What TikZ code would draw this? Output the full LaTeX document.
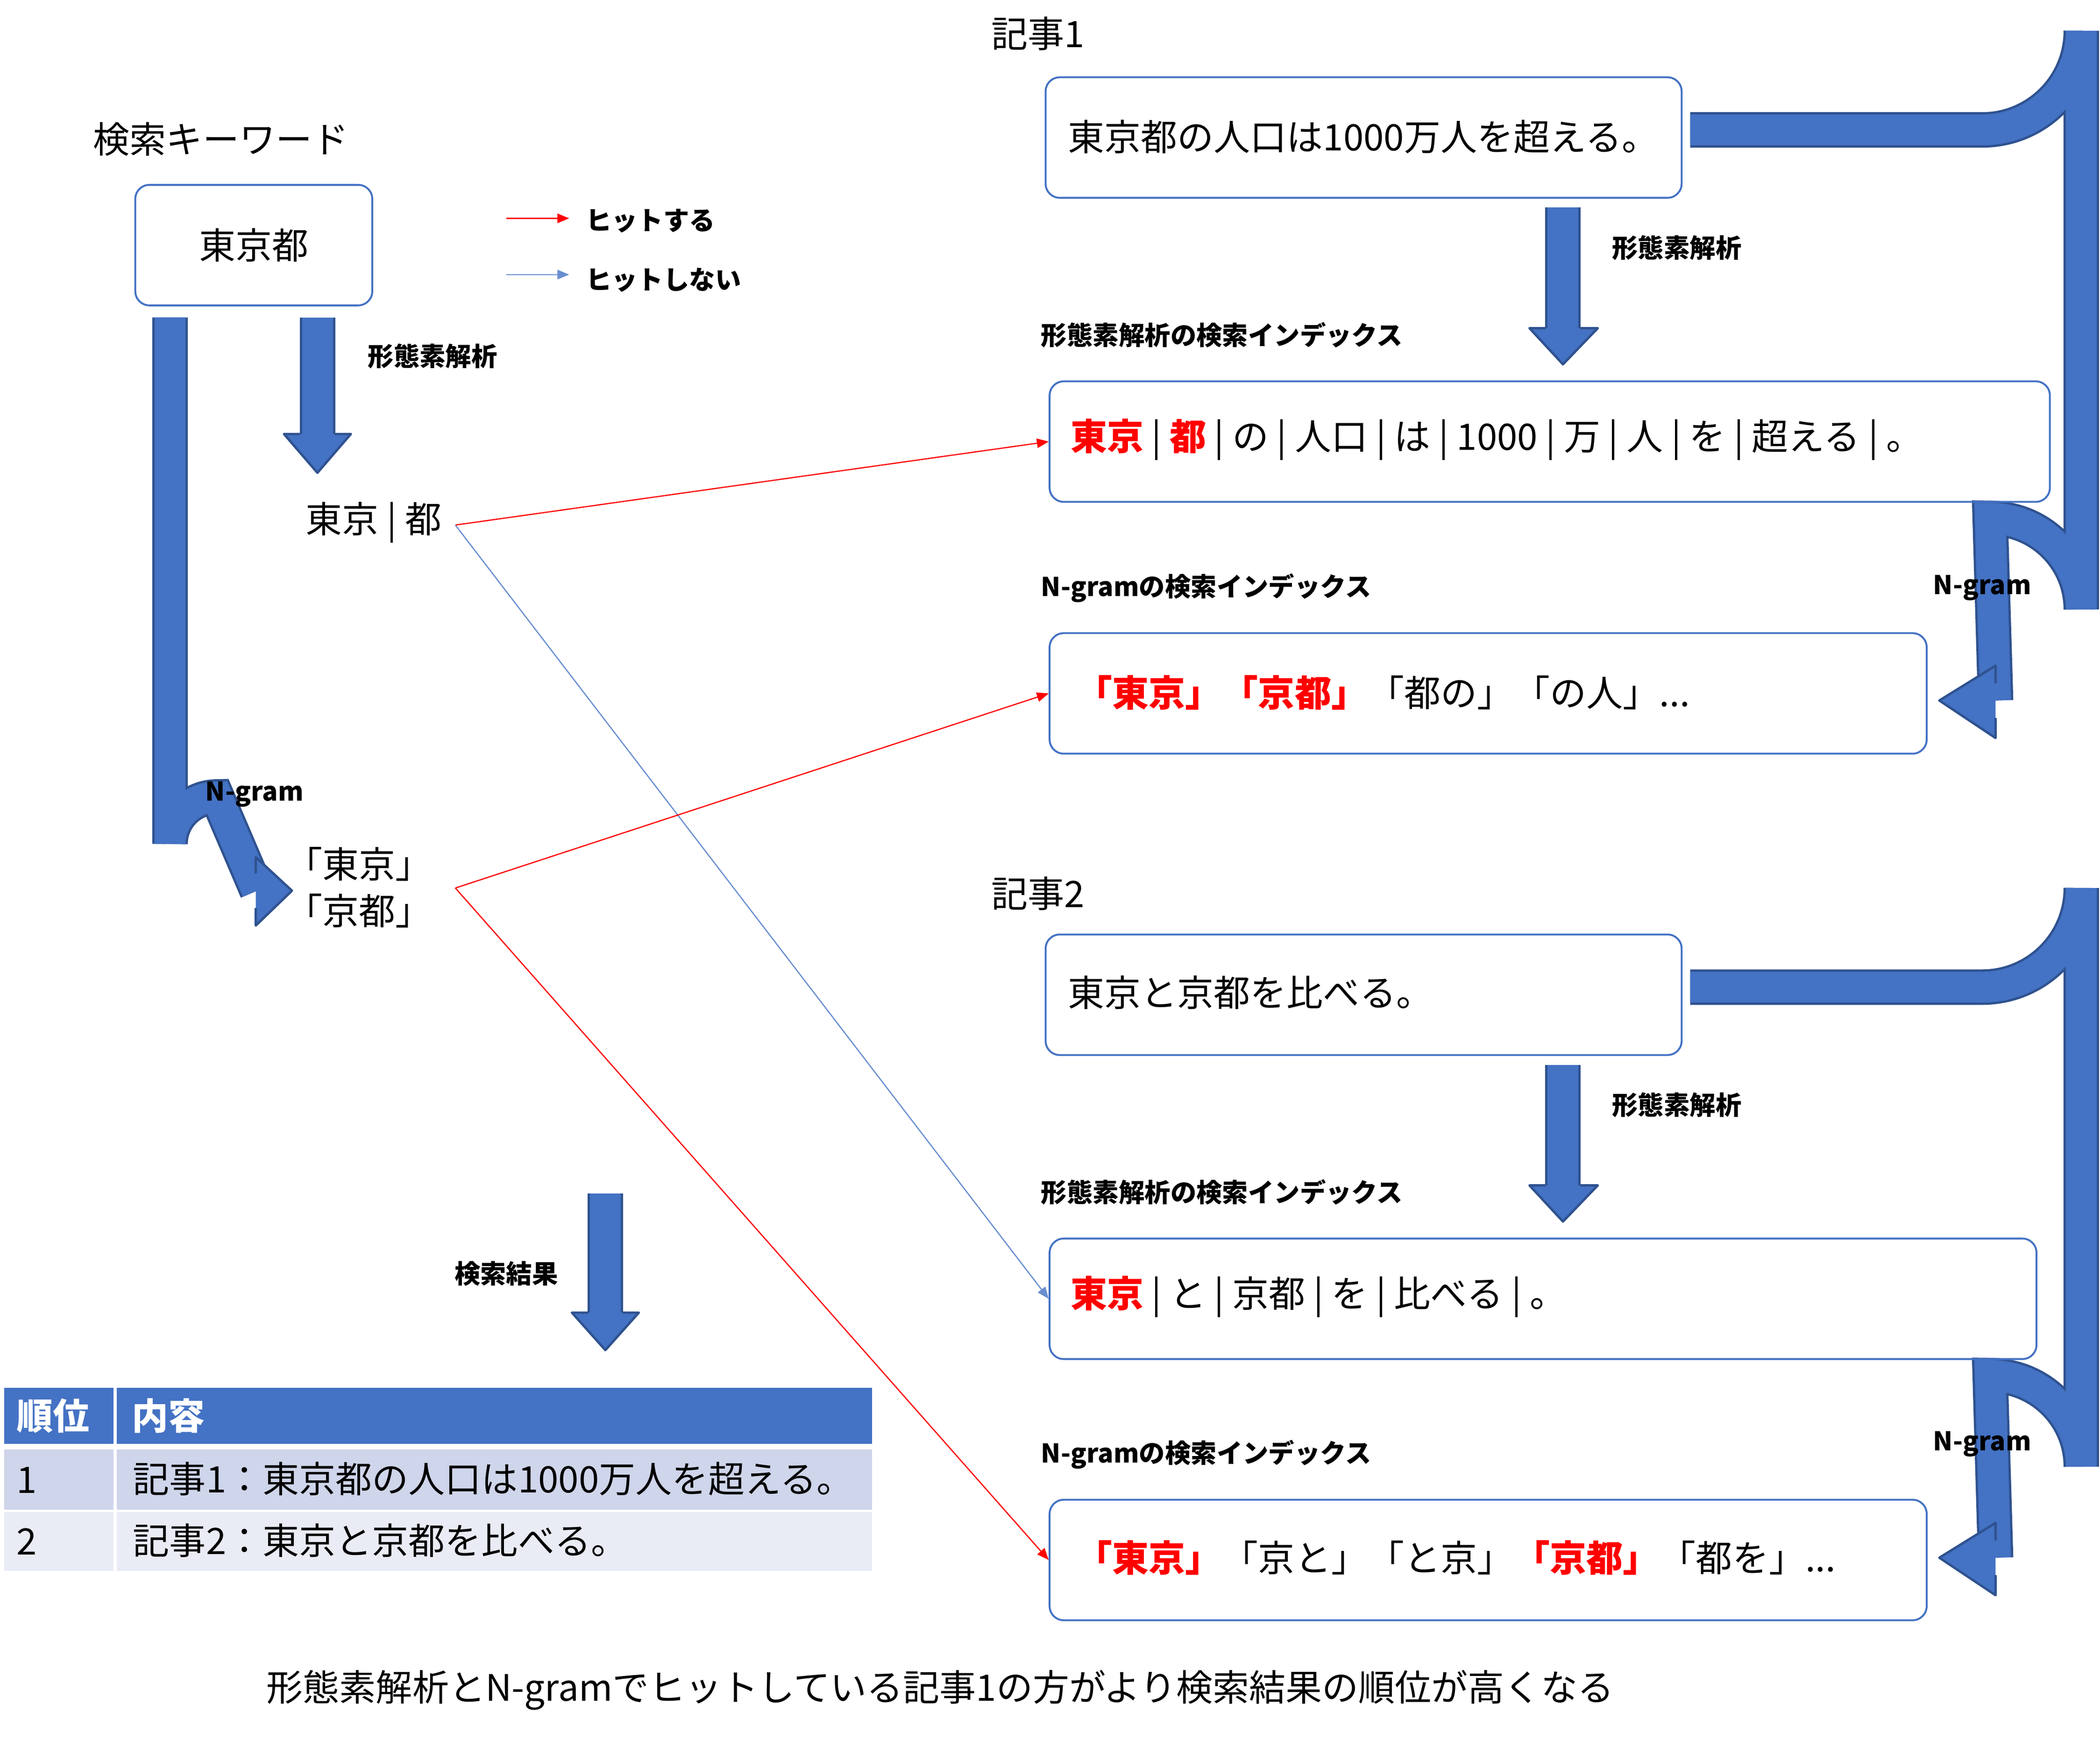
\documentclass[tikz,border=0pt]{standalone}
\usepackage{fontspec}
\setmainfont{Noto Sans CJK JP}
\usepackage{xcolor}
\usetikzlibrary{arrows.meta,positioning}
\definecolor{ofblue}{HTML}{4472C4}
\definecolor{ofdark}{HTML}{2F528F}
\definecolor{rowa}{HTML}{CFD5EA}
\definecolor{rowb}{HTML}{E9EBF5}
\tikzset{
  box/.style={draw=ofblue, line width=0.8pt, rounded corners=6pt, minimum height=1.8cm, inner sep=0pt},
  txt/.style={font=\fontsize{15.5}{18}\selectfont, inner sep=0pt},
  lbl/.style={font=\fontsize{11}{13}\selectfont\bfseries, inner sep=0pt},
  fat/.style={line width=1pt, draw=ofdark, double=ofblue, double distance=0.46cm},
  head/.style={fill=ofblue, draw=ofdark, line width=1pt, line join=round},
  hit/.style={red, line width=0.5pt, -{Triangle[length=5pt,width=4pt]}},
  miss/.style={ofblue!80, line width=0.5pt, -{Triangle[length=5pt,width=4pt]}},
}
\newcommand{\hl}[1]{\textcolor{red}{\bfseries #1}}
\begin{document}
\begin{tikzpicture}[x=0.02cm, y=-0.02cm]
  \useasboundingbox (0,0) rectangle (1568,1299);

  % keyword side
  \node[txt] at (165,104) {検索キーワード};
  \node[box, minimum width=3.54cm] (kw) at (189.5,183) {\fontsize{15.5}{18}\selectfont 東京都};
  \node[txt, anchor=east] (kwm) at (330,390) {東京 | 都};
  \node[txt] (kwa) at (268,645) {「東京」};
  \node[txt] (kwb) at (268,680) {「京都」};
  \coordinate (kwm-out) at (340,392);
  \coordinate (kwn-out) at (340,663);

  % legend
  \coordinate (la) at (378,163); \coordinate (lb) at (425,163);
  \coordinate (lc) at (378,205); \coordinate (ld) at (425,205);
  \draw[hit] (la) -- (lb);
  \draw[miss] (lc) -- (ld);
  \node[lbl, anchor=west] at (437,165) {ヒットする};
  \node[lbl, anchor=west] at (437,209) {ヒットしない};

  % keyword arrows
  \draw[fat] (237,237) -- (237,325);
  \filldraw[head] (224,324) -- (212,324) -- (237,353) -- (262,324) -- (250,324);
  \node[lbl] at (323,266) {形態素解析};
  \draw[fat] (127,237) -- (127,630) arc[start angle=180, end angle=270, radius=35] -- (192,665);
  \filldraw[head] (191,652) -- (191,640) -- (218,665) -- (191,691) -- (191,678);
  \node[lbl] at (190,593) {N-gram};

  % article 1
  \node[txt] at (775,25) {記事1};
  \node[box, minimum width=9.5cm, anchor=north west] (a1) at (780,57) {};
  \node[txt, anchor=west] at (797,102) {東京都の人口は1000万人を超える。};
  \draw[fat] (1262,97) -- (1480,97) arc[start angle=90, end angle=0, radius=74] -- (1554,455) arc[start angle=0, end angle=-90, radius=68] -- (1490,523);
  \filldraw[head] (1490,510) -- (1490,497) -- (1448,523) -- (1490,551) -- (1490,536);
  \draw[fat] (1167,155) -- (1167,246);
  \filldraw[head] (1154,245) -- (1142,245) -- (1167,272) -- (1193,245) -- (1180,245);
  \node[lbl] at (1252,185) {形態素解析};
  \node[lbl, anchor=west] at (777,250) {形態素解析の検索インデックス};
  \node[box, minimum width=14.94cm, anchor=north west] (m1) at (783,284) {};
  \node[txt, anchor=west] at (799,328) {\hl{東京} | \hl{都} | の | 人口 | は | 1000 | 万 | 人 | を | 超える | 。};
  \node[lbl, anchor=west] at (777,439) {N-gramの検索インデックス};
  \node[lbl] at (1480,439) {N-gram};
  \node[box, minimum width=13.1cm, anchor=north west] (n1) at (783,472) {};
  \node[txt, anchor=west] at (803,517) {\hl{「東京」「京都」}「都の」「の人」...};

  % article 2
  \node[txt] at (775,667) {記事2};
  \node[box, minimum width=9.5cm, anchor=north west] (a2) at (780,697) {};
  \node[txt, anchor=west] at (797,741) {東京と京都を比べる。};
  \draw[fat] (1262,737) -- (1480,737) arc[start angle=90, end angle=0, radius=74] -- (1554,1095) arc[start angle=0, end angle=-90, radius=68] -- (1490,1163);
  \filldraw[head] (1490,1150) -- (1490,1137) -- (1448,1163) -- (1490,1191) -- (1490,1176);
  \draw[fat] (1167,795) -- (1167,886);
  \filldraw[head] (1154,885) -- (1142,885) -- (1167,912) -- (1193,885) -- (1180,885);
  \node[lbl] at (1252,825) {形態素解析};
  \node[lbl, anchor=west] at (777,890) {形態素解析の検索インデックス};
  \node[box, minimum width=14.74cm, anchor=north west] (m2) at (783,924) {};
  \node[txt, anchor=west] at (799,968) {\hl{東京} | と | 京都 | を | 比べる | 。};
  \node[lbl, anchor=west] at (777,1086) {N-gramの検索インデックス};
  \node[lbl] at (1480,1078) {N-gram};
  \node[box, minimum width=13.1cm, anchor=north west] (n2) at (783,1119) {};
  \node[txt, anchor=west] at (803,1163) {\hl{「東京」}「京と」「と京」\hl{「京都」}「都を」...};

  % hits
  \draw[hit] (kwm-out) -- (m1.west);
  \draw[miss] (kwm-out) -- (m2.west);
  \draw[hit] (kwn-out) -- (n1.west);
  \draw[hit] (kwn-out) -- (n2.west);

  % result
  \draw[fat] (452,891) -- (452,980);
  \filldraw[head] (439,980) -- (427,980) -- (452,1008) -- (477,980) -- (465,980);
  \node[lbl] at (378,951) {検索結果};
  \fill[ofblue] (3,1036) rectangle (651,1078);
  \fill[rowa] (3,1082) rectangle (651,1127);
  \fill[rowb] (3,1129) rectangle (651,1173);
  \draw[white, line width=1.5pt] (86,1036) -- (86,1173);
  \node[txt, white, font=\fontsize{15.5}{18}\selectfont\bfseries, anchor=west] at (12,1057) {順位};
  \node[txt, white, font=\fontsize{15.5}{18}\selectfont\bfseries, anchor=west] at (98,1057) {内容};
  \node[txt, anchor=west] at (12,1105) {1};
  \node[txt, anchor=west] at (99,1104) {記事1：東京都の人口は1000万人を超える。};
  \node[txt, anchor=west] at (12,1151) {2};
  \node[txt, anchor=west] at (99,1150) {記事2：東京と京都を比べる。};

  \node[txt] at (702,1262) {形態素解析とN-gramでヒットしている記事1の方がより検索結果の順位が高くなる};
\end{tikzpicture}
\end{document}
